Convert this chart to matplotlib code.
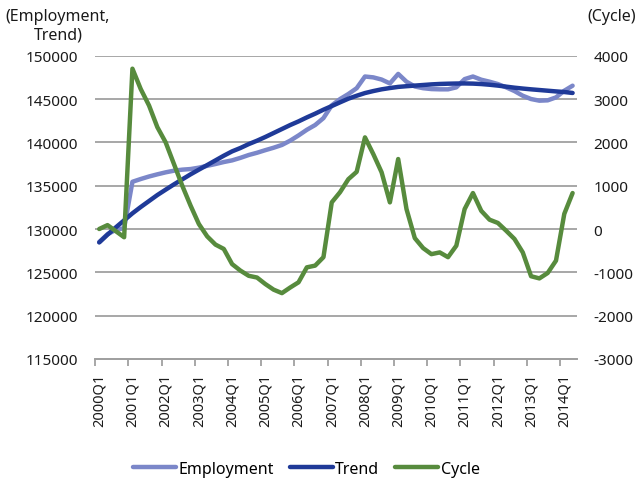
import numpy as np
import matplotlib
matplotlib.use('Agg')
from matplotlib import pyplot as plt

plt.rcParams['font.family'] = ['Noto Sans', 'DejaVu Sans']
plt.rcParams['axes.unicode_minus'] = False

# quarters 2000Q1 .. 2014Q2
quarters = [f'{y}Q{q}' for y in range(2000, 2015) for q in range(1, 5)][:58]

employment = [
    128500, 129400, 129900, 130100, 135450, 135770, 136060, 136310, 136540, 136730,
    136850, 136920, 137080, 137290, 137500, 137730, 137920, 138210, 138540, 138800,
    139100, 139380, 139700, 140200, 140800, 141450, 142000, 142800, 144270, 145000,
    145580, 146250, 147600, 147500, 147250, 146800, 147900, 147000, 146450, 146250,
    146150, 146120, 146120, 146350, 147300, 147600, 147230, 147000, 146730, 146350,
    145920, 145380, 145000, 144810, 144850, 145190, 145960, 146540,
]

trend = [
    128450, 129350, 130190, 131000, 131810, 132540, 133230, 133920, 134540, 135150,
    135730, 136310, 136850, 137380, 137920, 138460, 138960, 139350, 139800, 140190,
    140620, 141080, 141540, 142000, 142420, 142880, 143310, 143770, 144190, 144620,
    145040, 145380, 145690, 145920, 146120, 146270, 146400, 146480, 146550, 146620,
    146690, 146740, 146770, 146790, 146800, 146780, 146730, 146650, 146550, 146430,
    146310, 146210, 146120, 146040, 145960, 145880, 145810, 145700,
]

cycle = [
    0, 90, -50, -190, 3700, 3230, 2850, 2350, 2000, 1500,
    1000, 540, 115, -170, -360, -460, -810, -960, -1080, -1120,
    -1270, -1400, -1480, -1350, -1230, -885, -845, -650, 615, 850,
    1150, 1320, 2115, 1730, 1310, 615, 1615, 460, -210, -440,
    -580, -540, -650, -385, 460, 830, 420, 215, 140, -40,
    -230, -540, -1090, -1140, -1015, -730, 350, 830,
]

C_EMP = '#7b87c9'
C_TREND = '#1f3a98'
C_CYCLE = '#578b3d'
GRID = '#a0a0a0'
TXT = '#1a1a1a'

x = np.arange(len(quarters))

fig = plt.figure(figsize=(6.38, 4.81), dpi=100)
ax = fig.add_axes([0.149, 0.2516, 0.755, 0.6305])
ax2 = ax.twinx()

l1, = ax.plot(x, employment, color=C_EMP, lw=3.2, solid_capstyle='round', zorder=2)
l2, = ax.plot(x, trend, color=C_TREND, lw=3.2, solid_capstyle='round', zorder=3)
l3, = ax2.plot(x, cycle, color=C_CYCLE, lw=3.2, solid_capstyle='round')

ax.set_xlim(-0.5, len(quarters) - 0.5)
ax.set_ylim(115000, 150000)
ax.set_yticks(np.arange(115000, 150001, 5000))
ax2.set_ylim(-3000, 4000)
ax2.set_yticks(np.arange(-3000, 4001, 1000))

ax.yaxis.grid(True, color=GRID, lw=1.3)
ax.set_axisbelow(True)

for a in (ax, ax2):
    for s in ('top', 'left', 'right'):
        a.spines[s].set_visible(False)
    a.spines['bottom'].set_color(GRID)
    a.spines['bottom'].set_linewidth(1.3)

# labels centred on categories, tick marks on the boundaries
ax.set_xticks(x[::4])
ax.set_xticklabels(quarters[::4], rotation=90, fontsize=10.5, color=TXT)
ax.set_xticks(x[::4] - 0.5, minor=True)
ax.tick_params(axis='x', which='major', length=0, pad=10)
ax.tick_params(axis='x', which='minor', length=5, width=1.3, color=GRID)

ax.tick_params(axis='y', length=0, pad=12, labelsize=11, labelcolor=TXT)
ax2.tick_params(axis='y', length=0, pad=12, labelsize=11, labelcolor=TXT)

fig.text(58 / 638, 1 - 17 / 481, '(Employment,', ha='center', va='center',
         fontsize=11.5, color=TXT)
fig.text(58 / 638, 1 - 36 / 481, 'Trend)', ha='center', va='center',
         fontsize=11.5, color=TXT)
fig.text(612 / 638, 1 - 17 / 481, '(Cycle)', ha='center', va='center',
         fontsize=11.5, color=TXT)

fig.legend([l1, l2, l3], ['Employment', 'Trend', 'Cycle'], loc='center',
           bbox_to_anchor=(0.48, 1 - 470 / 481), ncol=3, frameon=False,
           fontsize=11.5, handlelength=2.7, handletextpad=0.15, columnspacing=1.0)

fig.savefig('out.png', dpi=100)
